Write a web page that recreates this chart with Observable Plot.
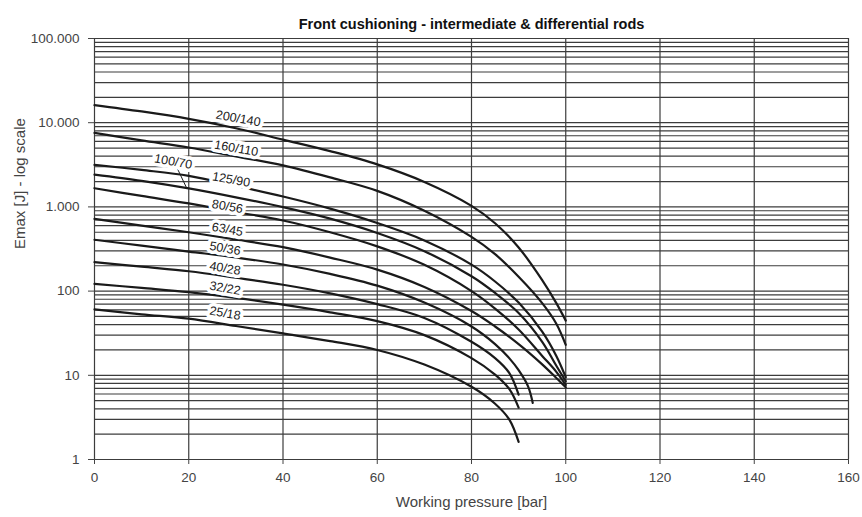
<!DOCTYPE html>
<html><head><meta charset="utf-8">
<script src="https://cdn.jsdelivr.net/npm/d3@7"></script>
<script src="https://cdn.jsdelivr.net/npm/@observablehq/plot@0.6"></script>
<style>
body{margin:0;background:#fff;}
#chart svg{font-family:"Liberation Sans",Arial,Helvetica,sans-serif;background:#fff;}
</style>
</head><body><div id="chart"></div>
<script>
const title = "Front cushioning - intermediate & differential rods";
const xLabel = "Working pressure [bar]";
const yLabel = "Emax [J] - log scale";
const xTicks = [0, 20, 40, 60, 80, 100, 120, 140, 160];
const yTicks = [1, 10, 100, 1000, 10000, 100000];
const yTickLabels = ["1", "10", "100", "1.000", "10.000", "100.000"];

// series (pressure in bar, Emax in J)
const p100 = [0, 10, 20, 30, 40, 50, 60, 70, 80, 85, 90, 95, 98, 100];
const e_200_140 = [16200, 13600, 11100, 8600, 6300, 4600, 3200, 1980, 1030, 640, 330, 135, 72, 44.6];
const e_160_110 = [7570, 6170, 5070, 3980, 3110, 2240, 1550, 900, 440, 275, 148, 72, 41, 23];
const e_125_90  = [3160, 2750, 2340, 1780, 1330, 955, 645, 400, 206, 130, 73, 33, 17, 9.5];
const e_100_70  = [2420, 2040, 1660, 1300, 993, 725, 490, 298, 150, 95, 55, 25, 13, 8.5];
const e_80_56   = [1667, 1350, 1100, 870, 690, 500, 340, 205, 100, 62, 35, 17, 11, 7.7];
const e_63_45   = [722, 600, 500, 410, 333, 250, 180, 112, 58, 38, 23.5, 13.5, 9.3, 7.2];
const p93 = [0, 10, 20, 30, 40, 50, 60, 70, 80, 85, 88, 90, 92, 93];
const e_50_36   = [407, 347, 295, 251, 207, 160, 116, 73, 38, 23.5, 16, 11.5, 7.4, 4.7];
const p90 = [0, 10, 20, 30, 40, 50, 60, 70, 80, 85, 88, 90];
const e_40_28   = [221, 195, 172, 144, 119, 94, 70, 48, 25, 16, 10.7, 5.9];
const e_32_22   = [122, 109, 97, 83, 69, 56, 44, 30, 16, 10.2, 6.9, 4.14];
const e_25_18   = [60.7, 53, 47, 38.5, 31.4, 25.5, 20, 13.4, 7.3, 4.6, 3.0, 1.62];

const seriesNames = ["200/140","160/110","125/90","100/70","80/56","63/45","50/36","40/28","32/22","25/18"];
const seriesP = [p100, p100, p100, p100, p100, p100, p93, p90, p90, p90];
const seriesE = [e_200_140, e_160_110, e_125_90, e_100_70, e_80_56, e_63_45, e_50_36, e_40_28, e_32_22, e_25_18];

// curve labels (anchor in data units)
const labelNames = ["200/140","160/110","100/70","125/90","80/56","63/45","50/36","40/28","32/22","25/18"];
const labelX = [30.5, 30.1, 16.7, 29.0, 28.2, 28.2, 27.7, 27.7, 27.7, 27.7];
const labelY = [11200, 4950, 3450, 2110, 1010, 540, 321, 186, 108, 54.5];
// leader line for 100/70
const leaderX = [17.4, 19.5];
const leaderY = [3000, 1700];

const curves = [];
seriesNames.forEach((name, i) => {
  seriesP[i].forEach((p, j) => curves.push({series: name, p, e: seriesE[i][j]}));
});
const labels = labelNames.map((t, i) => ({t, x: labelX[i], y: labelY[i]}));
const leader = leaderX.map((x, i) => ({x, y: leaderY[i]}));

const minor = [];
for (let d = 1; d < 100000; d *= 10) for (let k = 1; k < 10; k++) minor.push(d * k);
minor.push(100000);

const fmt = d => yTickLabels[yTicks.indexOf(d)] ?? "";

const chart = Plot.plot({
  width: 862,
  height: 517,
  marginLeft: 94,
  marginRight: 14,
  marginTop: 38,
  marginBottom: 58,
  style: {fontFamily: "Liberation Sans, Arial, sans-serif", background: "#fff"},
  x: {domain: [0, 160]},
  y: {type: "log", domain: [1, 100000]},
  marks: [
    Plot.ruleY(minor, {stroke: "#3c3c3c", strokeWidth: 1.2}),
    Plot.ruleX(xTicks, {stroke: "#3c3c3c", strokeWidth: 1.2}),
    Plot.axisX({ticks: xTicks, tickSize: 5, tickPadding: 8, fontSize: 13.5, color: "#444", label: null}),
    Plot.axisY({ticks: yTicks, tickFormat: fmt, tickSize: 6, tickPadding: 9, fontSize: 13.5, color: "#444", label: null}),
    Plot.line(curves, {x: "p", y: "e", z: "series", stroke: "#1a1a1a", strokeWidth: 2.2, curve: "catmull-rom"}),
    Plot.line(leader, {x: "x", y: "y", stroke: "#1a1a1a", strokeWidth: 1}),
    Plot.text(labels, {x: "x", y: "y", text: "t", rotate: 10, fontSize: 12.5, fill: "#222", stroke: "#fff", strokeWidth: 7, paintOrder: "stroke"}),
    Plot.text([title], {frameAnchor: "top", dy: -20, text: d => d, fontSize: 14.5, fontWeight: "bold", fill: "#111"}),
    Plot.text([xLabel], {frameAnchor: "bottom", dy: 47, text: d => d, fontSize: 15, fill: "#444"}),
    Plot.text([yLabel], {frameAnchor: "left", dx: -74, rotate: -90, text: d => d, fontSize: 15, fill: "#444"})
  ]
});
document.getElementById("chart").appendChild(chart);
</script>
</body></html>
